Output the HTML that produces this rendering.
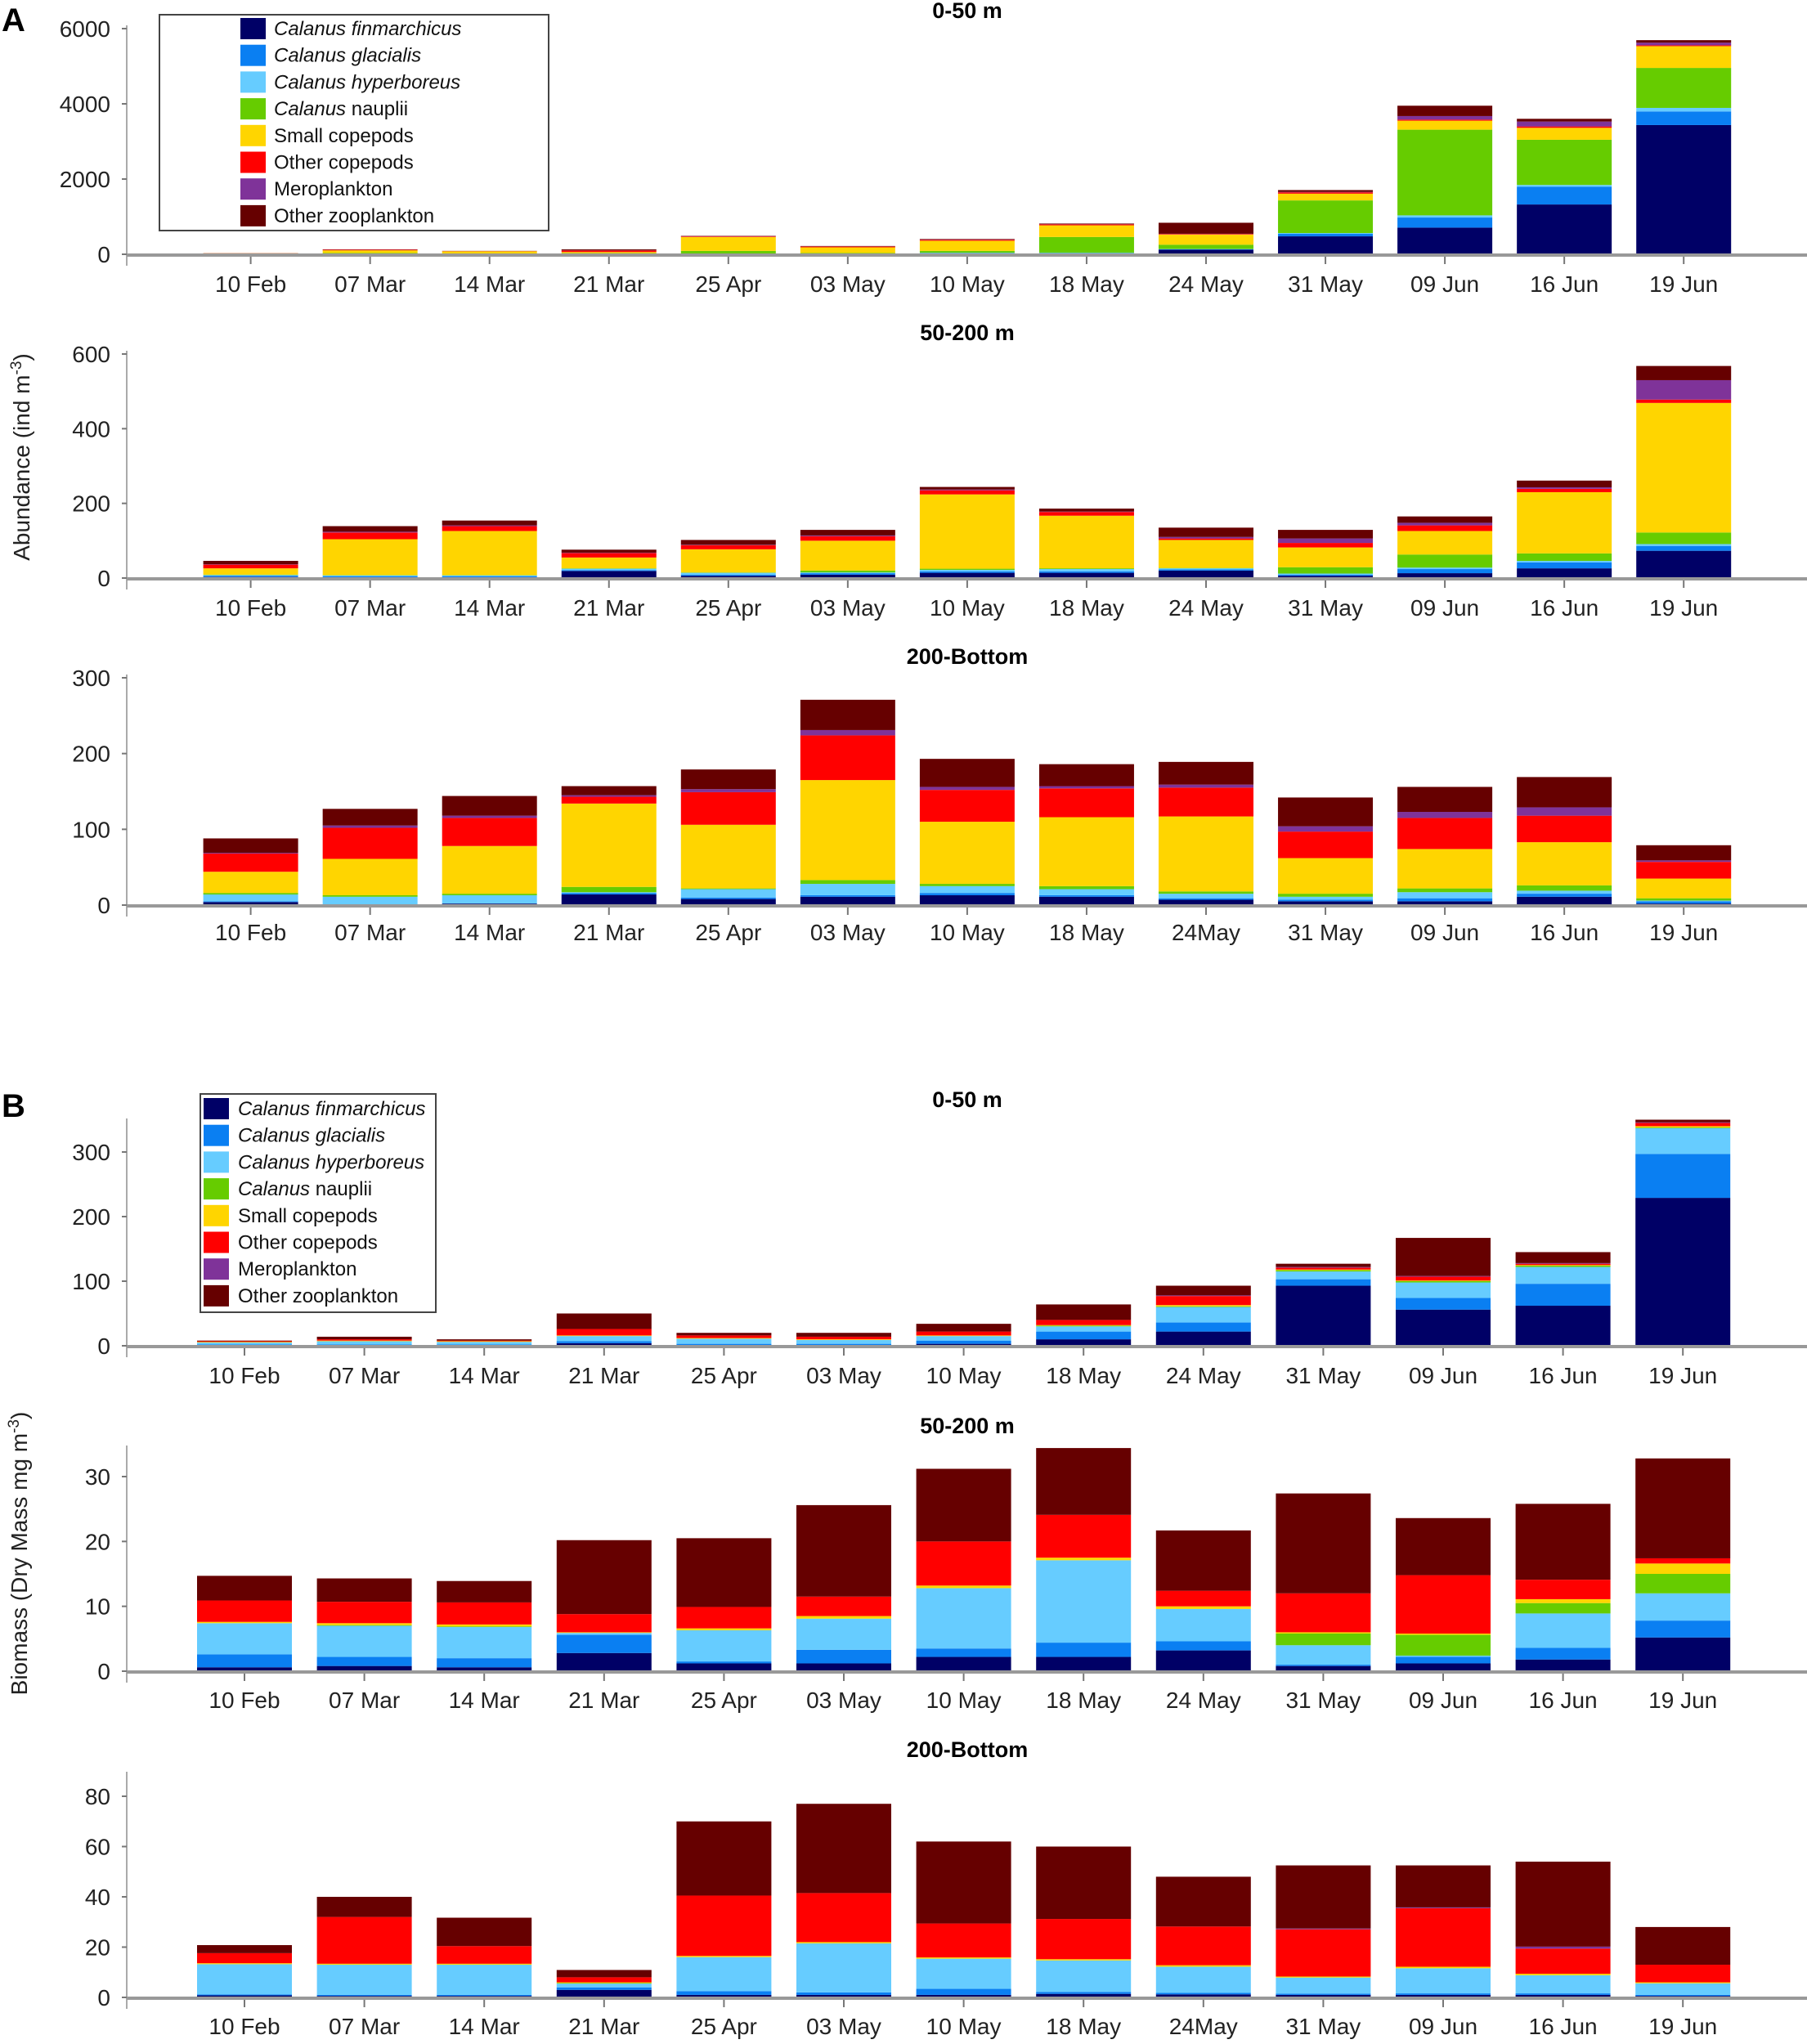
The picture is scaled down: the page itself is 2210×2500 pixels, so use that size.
<!DOCTYPE html>
<html><head><meta charset="utf-8">
<style>
html,body{margin:0;padding:0;background:#fff;}
svg{display:block;font-family:"Liberation Sans",Arial,sans-serif;}
</style></head>
<body>
<svg id="fig" width="2210" height="2500" viewBox="0 0 2210 2500" xmlns="http://www.w3.org/2000/svg">
<rect width="2210" height="2500" fill="#fff"/>
<text x="2" y="38" font-size="40" font-weight="bold">A</text>
<text x="2" y="1366" font-size="40" font-weight="bold">B</text>
<text transform="translate(36,559) rotate(-90)" text-anchor="middle" font-size="28" fill="#222">Abundance (ind m<tspan baseline-shift="super" font-size="19">-3</tspan>)</text>
<text transform="translate(33,1900) rotate(-90)" text-anchor="middle" font-size="28" fill="#222">Biomass (Dry Mass mg m<tspan baseline-shift="super" font-size="19">-3</tspan>)</text>
<g id="plots"></g>
<g id="legends"></g>
</svg>
<script>
const seriesNames = ["Calanus finmarchicus","Calanus glacialis","Calanus hyperboreus","Calanus nauplii","Small copepods","Other copepods","Meroplankton","Other zooplankton"];
const seriesColors = ["#000066","#0a7ff2","#66ccff","#66cc00","#ffd500","#ff0000","#7f3399","#660000"];
const datesA = ["10 Feb","07 Mar","14 Mar","21 Mar","25 Apr","03 May","10 May","18 May","24 May","31 May","09 Jun","16 Jun","19 Jun"];
const datesB = ["10 Feb","07 Mar","14 Mar","21 Mar","25 Apr","03 May","10 May","18 May","24May","31 May","09 Jun","16 Jun","19 Jun"];

const abund0_50 = [
[2,2,2,5,15,3,0,2],[5,5,5,20,70,15,2,8],[3,3,3,10,60,6,1,4],[10,5,5,10,30,40,5,25],
[10,5,5,70,370,15,5,10],[5,5,5,20,150,20,5,10],[20,10,10,50,270,25,5,15],[20,10,10,420,310,25,5,17],
[120,10,10,115,270,15,5,293],[477,67,20,868,180,36,10,49],[709,268,58,2278,239,29,94,275],
[1324,470,50,1201,318,36,130,73],[3436,362,94,1063,579,22,72,65]];
const abund50_200 = [
[3,3,2,1,17,10,1,9],[2,3,2,1,96,18,2,15],[2,3,2,1,118,13,2,13],[19,2,4,1,29,12,1,8],
[6,3,5,1,62,11,1,13],[9,4,2,5,80,12,2,15],[14,4,4,3,199,11,2,7],[14,4,6,2,141,10,1,8],
[20,3,3,1,75,4,4,25],[6,3,3,17,53,12,12,23],[13,11,4,35,63,15,7,17],[26,16,4,20,164,9,4,18],
[73,13,5,31,347,9,52,38]];
const abund200_bot = [
[4,1,9,2,28,24,1,19],[0,0,11,2,48,41,3,22],[2,0,11,2,63,37,3,26],[14,2,1,7,110,9,2,12],
[8,2,11,1,84,43,4,26],[11,2,15,5,132,59,7,40],[13,3,9,3,82,42,4,37],[11,2,8,4,91,38,3,29],
[7,2,6,3,99,38,4,30],[5,2,4,4,47,35,7,38],[5,4,8,5,52,41,8,33],[11,4,4,7,57,35,11,40],
[2,3,1,3,26,22,2,20]];
const bio0_50 = [
[1,1,3,0,1,1,0,1],[1,1,5,0,1,2,0,4],[1,1,4,0,1,1,0,2],[4,3,8,0,1,10,0,24],
[1,2,8,0,1,4,0,4],[1,2,6,0,1,4,0,6],[3,5,7,0,1,6,0,12],[10,12,8,1,1,8,0,24],
[22,14,24,1,2,14,1,15],[93,10,12,2,1,3,1,5],[56,18,24,2,1,6,1,59],[62,34,26,2,1,2,1,17],
[229,68,40,1,2,5,1,4]];
const bio50_200 = [
[0.6,2,4.8,0,0.2,3.3,0,3.8],[0.8,1.4,4.8,0.1,0.3,3.3,0,3.6],[0.6,1.4,4.8,0.1,0.3,3.4,0,3.3],
[2.8,2.8,0.3,0,0.1,2.8,0,11.4],[1.2,0.3,4.8,0,0.3,3.3,0,10.6],[1.2,2.1,4.8,0,0.4,3,0,14.1],
[2.2,1.3,9.3,0,0.4,6.8,0,11.2],[2.2,2.2,12.7,0,0.4,6.6,0,10.3],[3.2,1.4,5,0,0.4,2.4,0,9.3],
[0.8,0.2,3,1.8,0.2,6,0,15.4],[1.2,1,0.2,3.2,0.2,9,0,8.8],[1.8,1.8,5.3,1.6,0.6,3,0,11.7],
[5.2,2.6,4.2,3,1.6,0.8,0,15.4]];
const bio200_bot = [
[0.8,0.4,12,0,0.4,4,0,3.2],[0.6,0.4,12,0,0.4,18.6,0,8],[0.6,0.4,12,0,0.4,7,0,11.3],
[3,1,1.5,0.2,0.3,2,0,2.9],[1,1.5,13.5,0,0.5,24,0,29.5],[1,1,19.5,0,0.5,19.5,0,35.5],
[1,2.4,12,0,0.5,13.5,0,32.6],[1.4,0.8,12.5,0,0.5,16,0,28.8],[1.2,0.6,10.4,0,0.6,15.4,0,19.8],
[1,0.5,6.4,0,0.4,18.8,0.3,25.1],[1,0.6,10,0,0.6,23.3,0.3,16.7],[1,0.6,7.2,0,0.6,10,0.8,33.8],
[0.6,0.4,4.6,0,0.4,7,0,15]];

const ticksA1=[0,2000,4000,6000], ticksA2=[0,200,400,600], ticksA3=[0,100,200,300];
const ticksB1=[0,100,200,300], ticksB2=[0,10,20,30], ticksB3=[0,20,40,60,80];

const NS="http://www.w3.org/2000/svg";
function mk(tag,attrs,parent){const e=document.createElementNS(NS,tag);for(const k in attrs)e.setAttribute(k,attrs[k]);parent.appendChild(e);return e;}

const panels=[
 {key:"a-0-50",title:"0-50 m",data:abund0_50,dates:datesA,ticks:ticksA1,vmax:6000,ytop:35,y0:311,titleY:13,labY:357,c0:306.6,step:146.05},
 {key:"a-50-200",title:"50-200 m",data:abund50_200,dates:datesA,ticks:ticksA2,vmax:600,ytop:433,y0:707,titleY:407,labY:753,c0:306.6,step:146.05},
 {key:"a-200-bottom",title:"200-Bottom",data:abund200_bot,dates:datesB,ticks:ticksA3,vmax:300,ytop:829,y0:1107,titleY:803,labY:1150,c0:306.6,step:146.05},
 {key:"b-0-50",title:"0-50 m",data:bio0_50,dates:datesA,ticks:ticksB1,vmax:300,ytop:1409,y0:1646,titleY:1345,labY:1692,c0:299,step:146.6,axTop:1368},
 {key:"b-50-200",title:"50-200 m",data:bio50_200,dates:datesA,ticks:ticksB2,vmax:30,ytop:1806,y0:2044,titleY:1744,labY:2089,c0:299,step:146.6,axTop:1768},
 {key:"b-200-bottom",title:"200-Bottom",data:bio200_bot,dates:datesB,ticks:ticksB3,vmax:80,ytop:2197,y0:2443,titleY:2140,labY:2488,c0:299,step:146.6,axTop:2167}
];
const plots=document.getElementById("plots");
const AX=155, RIGHT=2210, BW=116;
panels.forEach(p=>{
  const g=mk("g",{},plots);
  
  
  const yS=v=>p.y0-(v/p.vmax)*(p.y0-p.ytop);
  const xS=i=>p.c0+p.step*i;
  const t=mk("text",{x:1183,y:p.titleY+9,"text-anchor":"middle","font-size":"27","font-weight":"bold"},g);
  t.textContent=p.title;
  
  
  const yl=mk("line",{x1:AX,x2:AX,y1:(p.axTop||p.ytop-4),y2:p.y0+14,stroke:"#aaa","stroke-width":"2"},g);
  
  
  p.ticks.forEach(v=>{
    const y=yS(v);
    mk("line",{x1:AX-6,x2:AX,y1:y,y2:y,stroke:"#777","stroke-width":"2"},g);
    const tl=mk("text",{x:AX-20,y:y+10,"text-anchor":"end","font-size":"28",fill:"#222"},g);
    tl.textContent=v;
    
    
  });
  p.data.forEach((row,i)=>{
    let cum=0;
    row.forEach((v,s)=>{
      if(v<=0)return;
      const yb=yS(cum), yt=yS(cum+v); cum+=v;
      const r=mk("rect",{x:xS(i)-BW/2,y:yt,width:BW,height:Math.max(0,yb-yt),fill:seriesColors[s]},g);
      
      
    });
  });
  const bl=mk("line",{x1:AX,x2:RIGHT,y1:p.y0+1,y2:p.y0+1,stroke:"#999","stroke-width":"4"},g);
  
  
  p.dates.forEach((d,i)=>{
    mk("line",{x1:xS(i),x2:xS(i),y1:p.y0+3,y2:p.y0+12,stroke:"#777","stroke-width":"2"},g);
    const tl=mk("text",{x:xS(i),y:p.labY,"text-anchor":"middle","font-size":"28",fill:"#222"},g);
    tl.textContent=d;
    
    
  });
});
const legends=document.getElementById("legends");
[{key:"a",x:195,y:18,w:476,h:264,sx:294,tx:335,cy:35},{key:"b",x:245,y:1338,w:288,h:267,sx:249,tx:291,cy:1356}].forEach(L=>{
  const g=mk("g",{},legends);
  
  
  mk("rect",{x:L.x,y:L.y,width:L.w,height:L.h,fill:"#fff",stroke:"#444","stroke-width":"2"},g);
  seriesNames.forEach((n,s)=>{
    const cy=L.cy+32.7*s;
    const e=mk("g",{},g);
    
    
    mk("rect",{x:L.sx,y:cy-13,width:31,height:26,fill:seriesColors[s]},e);
    const t=mk("text",{x:L.tx,y:cy+8,"font-size":"24",fill:"#111"},e);
    if(n.startsWith("Calanus")){
      const it=mk("tspan",{"font-style":"italic"},t);
      if(n==="Calanus nauplii"){it.textContent="Calanus";const r=mk("tspan",{},t);r.textContent=" nauplii";}
      else it.textContent=n;
    } else t.textContent=n;
  });
});
</script>
</body></html>
